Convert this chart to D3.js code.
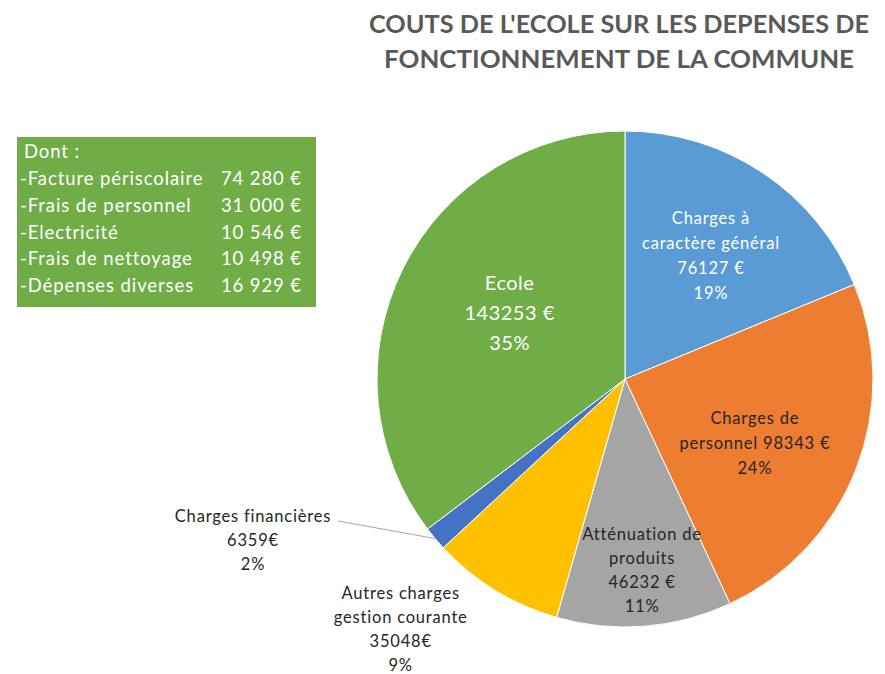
<!DOCTYPE html>
<html>
<head>
<meta charset="utf-8">
<script src="https://cdn.jsdelivr.net/npm/d3@7"></script>
<style>
    body { margin: 0; background: #fff; }
    svg text { font-family: Lato, "Open Sans", sans-serif; }
</style>
</head>
<body>
<div id="chart"></div>
<script>
// slice data, clockwise from 12 o'clock
const categories = ['Charges à caractère général', 'Charges de personnel', 'Atténuation de produits',
    'Autres charges gestion courante', 'Charges financières', 'Ecole'];
const values = [76127, 98343, 46232, 35048, 6359, 143253];
const colors = ['#5B9BD5', '#ED7D31', '#A5A5A5', '#FFC000', '#4472C4', '#70AD47'];
const labelLines = [
    ['Charges à', 'caractère général', '76127 €', '19%'],
    ['Charges de', 'personnel  98343 €', '24%'],
    ['Atténuation de', 'produits', '46232 €', '11%'],
    ['Autres charges', 'gestion courante', '35048€', '9%'],
    ['Charges financières', '6359€', '2%'],
    ['Ecole', '143253 €', '35%']
];
const detailNames = ['-Facture périscolaire', '-Frais de personnel', '-Electricité', '-Frais de nettoyage', '-Dépenses diverses'];
const detailValues = ['74 280 €', '31 000 €', '10 546 €', '10 498 €', '16 929 €'];
const titleLines = ["COUTS DE L'ECOLE SUR LES DEPENSES DE", 'FONCTIONNEMENT DE LA COMMUNE'];

const w = 885;
const h = 674;
const cx = 625, cy = 379, r = 248;

const svg = d3.select('#chart')
    .append('svg')
    .attr('width', w)
    .attr('height', h);

// title
const titleWidths = [500, 470];
svg.selectAll('text.title')
    .data(titleLines)
    .enter()
    .append('text')
    .attr('class', 'title')
    .attr('x', 619)
    .attr('y', (d, i) => 33 + i * 35)
    .attr('text-anchor', 'middle')
    .attr('fill', '#595959')
    .attr('font-size', 25)
    .attr('font-weight', 'bold')
    .attr('textLength', (d, i) => titleWidths[i])
    .attr('lengthAdjust', 'spacingAndGlyphs')
    .text(d => d);

const pie = d3.pie().sort(null).value(d => d);
const arcs = pie(values);
const arc = d3.arc().innerRadius(0).outerRadius(r);

const g = svg.append('g').attr('transform', `translate(${cx},${cy})`);

g.selectAll('path')
    .data(arcs)
    .enter()
    .append('path')
    .attr('d', arc)
    .attr('fill', (d, i) => colors[i])
    .attr('stroke', '#fff')
    .attr('stroke-width', 1);

// label placement: radius, angle shift, line height, font size, colour
const labelConf = [
    { r: 150, da: 0.02, lh: 25, fs: 16.5, fill: '#fff' },
    { r: 145, da: 0.09, lh: 25, fs: 16.5, fill: '#262626' },
    { r: 192, da: -0.01, lh: 24, fs: 16.5, fill: '#262626' },
    { r: 336, da: 0.18, lh: 24, fs: 16.5, fill: '#262626' },
    { r: 0, da: 0, lh: 24, fs: 16.5, fill: '#262626' },
    { r: 133, da: 0.06, lh: 30, fs: 20, fill: '#fff' }
];

arcs.forEach((d, i) => {
    const c = labelConf[i];
    let lx, ly;
    if (i === 4) {
        // outside label with a leader line
        lx = 253 - cx;
        ly = 540 - cy;
        const a = (d.startAngle + d.endAngle) / 2;
        g.append('polyline')
            .attr('points', [[338 - cx, 521 - cy], [r * Math.sin(a), -r * Math.cos(a)]].map(p => p.join(',')).join(' '))
            .attr('fill', 'none')
            .attr('stroke', '#a6a6a6')
            .attr('stroke-width', 1);
    } else {
        const a = (d.startAngle + d.endAngle) / 2 + c.da;
        lx = c.r * Math.sin(a);
        ly = -c.r * Math.cos(a);
    }
    const lines = labelLines[i];
    const t = g.append('text')
        .attr('text-anchor', 'middle')
        .attr('fill', c.fill)
        .attr('font-size', c.fs)
        .attr('letter-spacing', i === 5 ? 0.5 : 0.8);
    lines.forEach((s, j) => {
        t.append('tspan')
            .attr('x', lx)
            .attr('y', ly + (j - (lines.length - 1) / 2) * c.lh + c.fs * 0.35)
            .text(s);
    });
});

// detail box
svg.append('rect')
    .attr('x', 17)
    .attr('y', 137)
    .attr('width', 299)
    .attr('height', 170)
    .attr('fill', '#70AD47');

const box = svg.append('g')
    .attr('fill', '#fff')
    .attr('font-size', 18.5)
    .attr('letter-spacing', 0.9);
box.append('text')
    .attr('x', 24)
    .attr('y', 158)
    .text('Dont :');
box.selectAll('text.name')
    .data(detailNames)
    .enter()
    .append('text')
    .attr('class', 'name')
    .attr('x', 20)
    .attr('y', (d, i) => 185 + i * 26.8)
    .text(d => d);
box.selectAll('text.val')
    .data(detailValues)
    .enter()
    .append('text')
    .attr('class', 'val')
    .attr('x', 302)
    .attr('y', (d, i) => 185 + i * 26.8)
    .attr('text-anchor', 'end')
    .text(d => d);
</script>
</body>
</html>
